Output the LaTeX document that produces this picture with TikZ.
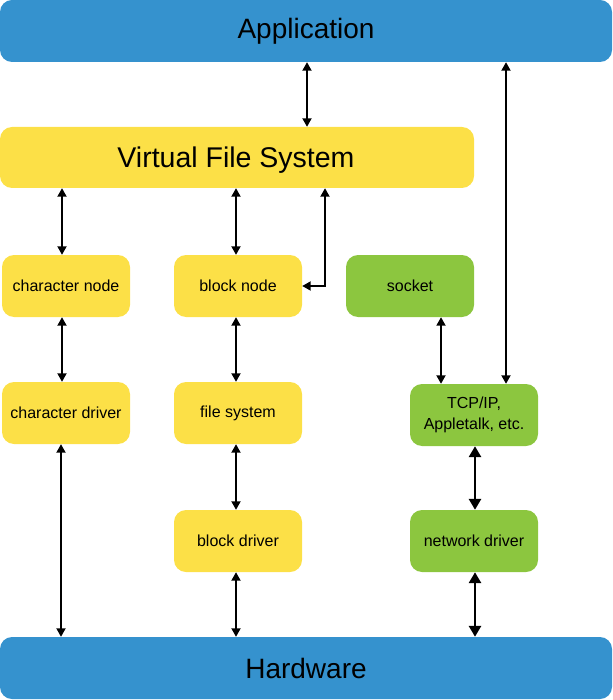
\documentclass[tikz,border=0pt]{standalone}
\usepackage{fontspec}
\setmainfont{Liberation Sans}
\usetikzlibrary{arrows.meta}
\definecolor{cblue}{HTML}{3592CE}
\definecolor{cyellow}{HTML}{FCE047}
\definecolor{cgreen}{HTML}{8CC63F}
\tikzset{
  bigbox/.style={fill=cblue, rounded corners=12pt, inner sep=0pt},
  vfsbox/.style={fill=cyellow, rounded corners=12pt, inner sep=0pt},
  ybox/.style={fill=cyellow, rounded corners=12pt, minimum width=128pt, minimum height=62pt, inner sep=0pt, align=center, font=\fontsize{16}{21}\selectfont},
  gbox/.style={ybox, fill=cgreen},
  arr/.style={line width=1.8pt, {Triangle[length=8.5pt,width=9pt]}-{Triangle[length=8.5pt,width=9pt]}},
  tarr/.style={line width=2.8pt, {Triangle[length=11pt,width=12pt]}-{Triangle[length=11pt,width=12pt]}}
}
\begin{document}
\begin{tikzpicture}[x=1pt,y=-1pt]
\useasboundingbox (0,0) rectangle (612,700);
\node[bigbox, minimum width=612pt, minimum height=62pt] (app) at (306,31) {};
\node at (306,31) {\fontsize{28}{32}\selectfont Application};
\node[bigbox, minimum width=612pt, minimum height=62pt] (hw) at (306,668) {};
\node at (306,668) {\fontsize{28}{32}\selectfont Hardware};
\node[vfsbox, minimum width=474pt, minimum height=61pt] (vfs) at (237,157.5) {};
\node at (236,160) {\fontsize{28.5}{32}\selectfont Virtual File System};

\node[ybox] (cn) at (66,286) {character node};
\node[ybox] (bn) at (238,286) {block node};
\node[gbox] (sock) at (410,286) {socket};
\node[ybox] (cd) at (66,413) {character driver};
\node[ybox] (fs) at (238,413) {file system};
\node[gbox] (tcp) at (474,415) {TCP/IP,\\Appletalk, etc.};
\node[ybox] (bd) at (238,541) {block driver};
\node[gbox] (nd) at (474,541) {network driver};

\draw[arr] (app.south -| 307,0) -- (vfs.north -| 307,0);
\draw[arr] (app.south -| 506,0) -- (tcp.north -| 506,0);
\draw[arr] (vfs.south -| 62,0) -- (cn.north -| 62,0);
\draw[arr] (vfs.south -| 236,0) -- (bn.north -| 236,0);
\draw[arr] (vfs.south -| 325,0) |- (bn.east);
\draw[arr] (cn.south -| 62,0) -- (cd.north -| 62,0);
\draw[arr] (bn.south -| 236,0) -- (fs.north -| 236,0);
\draw[arr] (sock.south -| 441,0) -- (tcp.north -| 441,0);
\draw[arr] (cd.south -| 61,0) -- (hw.north -| 61,0);
\draw[arr] (fs.south -| 236,0) -- (bd.north -| 236,0);
\draw[arr] (bd.south -| 236,0) -- (hw.north -| 236,0);
\draw[tarr] (tcp.south -| 475,0) -- (nd.north -| 475,0);
\draw[tarr] (nd.south -| 475,0) -- (hw.north -| 475,0);
\end{tikzpicture}
\end{document}
